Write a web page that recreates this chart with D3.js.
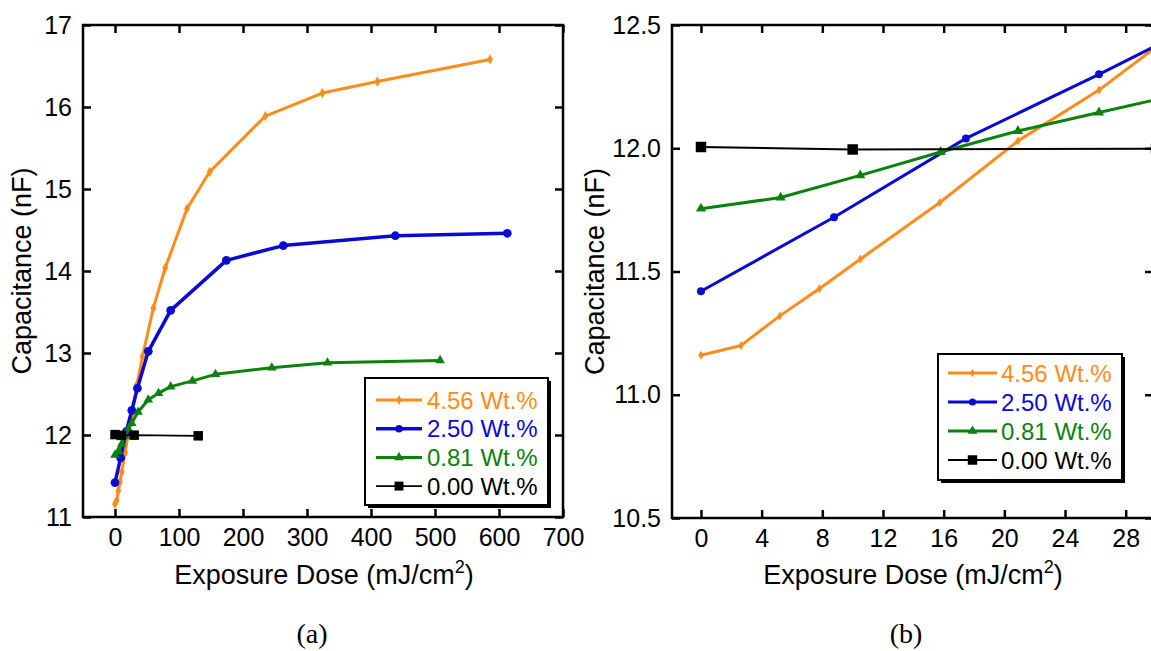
<!DOCTYPE html>
<html>
<head>
<meta charset="utf-8">
<script src="https://cdn.jsdelivr.net/npm/d3@7"></script>
<style>
  body { margin: 0; background: #fff; }
  svg { display: block; }
  text { font-family: "Liberation Sans", Arial, sans-serif; fill: #000; }
</style>
</head>
<body>
<svg id="chart" width="1151" height="651"></svg>
<script>
// Capacitance vs. exposure dose for four filler loadings
const seriesNames = ["4.56 Wt.%", "2.50 Wt.%", "0.81 Wt.%", "0.00 Wt.%"];

const dose456 = [0, 2.64, 5.2, 7.8, 10.5, 15.75, 20.9, 26.24, 34.5, 43, 60, 78.5, 112.5, 148, 235, 324, 410, 586];
const cap456  = [11.16, 11.20, 11.32, 11.43, 11.55, 11.78, 12.03, 12.236, 12.62, 12.96, 13.55, 14.04, 14.76, 15.21, 15.89, 16.17, 16.31, 16.58];

const dose250 = [0, 8.77, 17.47, 26.24, 35, 52, 87, 174, 263, 438, 613];
const cap250  = [11.42, 11.72, 12.04, 12.30, 12.57, 13.02, 13.52, 14.13, 14.31, 14.43, 14.46];

const dose081 = [0, 5.25, 10.5, 15.8, 20.9, 26.24, 36, 52, 68, 87, 121, 157, 245, 332, 508];
const cap081  = [11.755, 11.80, 11.89, 11.985, 12.07, 12.145, 12.28, 12.43, 12.51, 12.59, 12.66, 12.74, 12.82, 12.88, 12.91];

const dose000 = [0, 10, 30, 130];
const cap000  = [12.005, 11.995, 11.998, 11.99];

// tick values for the two panels
const ticksAx = [0, 100, 200, 300, 400, 500, 600, 700];
const ticksAy = [11, 12, 13, 14, 15, 16, 17];
const ticksBx = [0, 4, 8, 12, 16, 20, 24, 28];
const ticksBy = [10.5, 11.0, 11.5, 12.0, 12.5];

const colors = ["#ff8c1a", "#0a0ad2", "#0b820b", "#000000"];
const symbols = [d3.symbolDiamond, d3.symbolCircle, d3.symbolTriangle, d3.symbolSquare];

const series = [
  { name: seriesNames[0], xs: dose456, ys: cap456 },
  { name: seriesNames[1], xs: dose250, ys: cap250 },
  { name: seriesNames[2], xs: dose081, ys: cap081 },
  { name: seriesNames[3], xs: dose000, ys: cap000 }
].map((s, i) => ({
  ...s,
  color: colors[i],
  symbol: symbols[i],
  points: s.xs.map((x, j) => ({ x, y: s.ys[j] }))
}));

const svg = d3.select("#chart");

function drawPanel(cfg) {
  const x = d3.scaleLinear().domain(cfg.xDomain).range([cfg.left, cfg.right]);
  const y = d3.scaleLinear().domain(cfg.yDomain).range([cfg.bottom, cfg.top]);
  const g = svg.append("g");

  const clipId = "clip-" + cfg.id;
  svg.append("defs").append("clipPath").attr("id", clipId)
    .append("rect")
    .attr("x", cfg.left).attr("y", cfg.top)
    .attr("width", cfg.right - cfg.left).attr("height", cfg.bottom - cfg.top);

  // data
  const plot = g.append("g").attr("clip-path", `url(#${clipId})`);
  series.forEach((s, i) => {
    const line = d3.line().x(d => x(d.x)).y(d => y(d.y));
    plot.append("path")
      .datum(s.points)
      .attr("fill", "none")
      .attr("stroke", s.color)
      .attr("stroke-width", cfg.lineWidths[i])
      .attr("stroke-linejoin", "round")
      .attr("d", line);
    plot.selectAll(null)
      .data(s.points)
      .join("path")
      .attr("transform", d => `translate(${x(d.x)},${y(d.y)})`)
      .attr("d", d3.symbol().type(s.symbol).size(cfg.markerSizes[i]))
      .attr("fill", s.color);
  });

  // axes with inward ticks on all four sides
  const tickStyle = sel => {
    sel.select(".domain").remove();
    sel.selectAll(".tick line").attr("stroke", "#000").attr("stroke-width", 2.5);
    sel.selectAll(".tick text")
      .style("font-family", '"Liberation Sans", Arial, sans-serif')
      .style("font-size", cfg.tickFont + "px")
      .attr("fill", "#000");
  };
  g.append("g").attr("transform", `translate(0,${cfg.bottom})`)
    .call(d3.axisBottom(x).tickValues(cfg.xTicks).tickSize(-8).tickPadding(11).tickFormat(cfg.xFormat))
    .call(tickStyle);
  g.append("g").attr("transform", `translate(0,${cfg.top})`)
    .call(d3.axisTop(x).tickValues(cfg.xTicks).tickSize(-8).tickFormat(""))
    .call(tickStyle);
  g.append("g").attr("transform", `translate(${cfg.left},0)`)
    .call(d3.axisLeft(y).tickValues(cfg.yTicks).tickSize(-8).tickPadding(11).tickFormat(cfg.yFormat))
    .call(tickStyle);
  g.append("g").attr("transform", `translate(${cfg.right},0)`)
    .call(d3.axisRight(y).tickValues(cfg.yTicks).tickSize(-8).tickFormat(""))
    .call(tickStyle);

  // frame
  g.append("rect")
    .attr("x", cfg.left).attr("y", cfg.top)
    .attr("width", cfg.right - cfg.left).attr("height", cfg.bottom - cfg.top)
    .attr("fill", "none").attr("stroke", "#000").attr("stroke-width", 2.5);

  // axis titles
  const xt = g.append("text")
    .attr("x", cfg.xTitleX).attr("y", 584)
    .attr("text-anchor", "middle")
    .style("font-size", "27px");
  xt.append("tspan").text("Exposure Dose (mJ/cm");
  xt.append("tspan").attr("dy", -11).style("font-size", "18px").text("2");
  xt.append("tspan").attr("dy", 11).text(")");

  g.append("text")
    .attr("transform", `translate(${cfg.yTitleX},${(cfg.top + cfg.bottom) / 2}) rotate(-90)`)
    .attr("text-anchor", "middle")
    .style("font-size", "27px")
    .text("Capacitance (nF)");

  // caption
  g.append("text")
    .attr("x", cfg.captionX).attr("y", 643)
    .attr("text-anchor", "middle")
    .style("font-family", '"Liberation Serif", "Times New Roman", serif')
    .style("font-size", "28px")
    .text(cfg.caption);

  // legend
  const L = cfg.legend;
  const lg = g.append("g");
  lg.append("rect").attr("x", L.x + 3).attr("y", L.y + 3).attr("width", L.w).attr("height", L.h).attr("fill", "#000");
  lg.append("rect").attr("x", L.x).attr("y", L.y).attr("width", L.w).attr("height", L.h)
    .attr("fill", "#fff").attr("stroke", "#000").attr("stroke-width", 2);
  series.forEach((s, i) => {
    const cy = L.rowY + i * L.rowStep;
    lg.append("line")
      .attr("x1", L.x + L.lineX1).attr("x2", L.x + L.lineX2)
      .attr("y1", cy).attr("y2", cy)
      .attr("stroke", s.color).attr("stroke-width", cfg.lineWidths[i]);
    lg.append("path")
      .attr("transform", `translate(${L.x + (L.lineX1 + L.lineX2) / 2},${cy})`)
      .attr("d", d3.symbol().type(s.symbol).size(cfg.legendMarkerSizes[i]))
      .attr("fill", s.color);
    lg.append("text")
      .attr("x", L.x + L.textX).attr("y", cy)
      .attr("dy", "0.36em")
      .style("font-size", "24px")
      .style("fill", s.color)
      .text(s.name);
  });
}

drawPanel({
  id: "a",
  left: 83, right: 563, top: 25, bottom: 517,
  xDomain: [-50, 700], yDomain: [11, 17],
  xTicks: ticksAx, yTicks: ticksAy,
  xFormat: d3.format("d"), yFormat: d3.format("d"),
  tickFont: 25,
  lineWidths: [3, 3.5, 3, 1.8],
  markerSizes: [30, 60, 40, 90],
  legendMarkerSizes: [28, 45, 40, 80],
  xTitleX: 324, yTitleX: 31,
  caption: "(a)", captionX: 312,
  legend: { x: 365, y: 378, w: 183, h: 127, rowY: 400, rowStep: 28.7, lineX1: 11, lineX2: 57, textX: 62 }
});

drawPanel({
  id: "b",
  left: 672, right: 1153, top: 25, bottom: 518,
  xDomain: [-1.91, 29.8], yDomain: [10.5, 12.5],
  xTicks: ticksBx, yTicks: ticksBy,
  xFormat: d3.format("d"), yFormat: d3.format(".1f"),
  tickFont: 25,
  lineWidths: [3, 3, 3, 2],
  markerSizes: [24, 50, 45, 110],
  legendMarkerSizes: [22, 40, 40, 90],
  xTitleX: 913, yTitleX: 604,
  caption: "(b)", captionX: 906,
  legend: { x: 938, y: 354, w: 184, h: 126, rowY: 373, rowStep: 29, lineX1: 10, lineX2: 59, textX: 63 }
});
</script>
</body>
</html>
